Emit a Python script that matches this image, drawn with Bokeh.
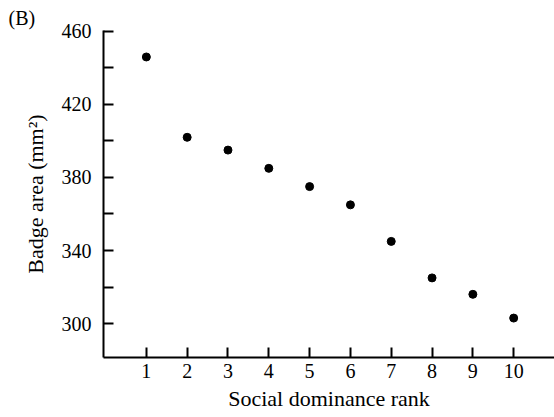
from bokeh.plotting import figure
from bokeh.models import FixedTicker, Range1d
from bokeh.embed import file_html
from bokeh.resources import INLINE

# Data
ranks = [1, 2, 3, 4, 5, 6, 7, 8, 9, 10]
badge_area = [446, 402, 395, 385, 375, 365, 345, 325, 316, 303]
y_major = [300, 340, 380, 420, 460]
y_minor = [320, 360, 400, 440]

FONT = "Liberation Serif"

p = figure(width=554, height=417, output_backend="svg", toolbar_location=None,
           x_range=Range1d(-0.05, 11.0), y_range=Range1d(281.4, 460.5),
           min_border_left=103, min_border_right=0, min_border_top=30,
           min_border_bottom=60, title="(B)")

p.title.text_font = FONT
p.title.text_font_size = "20px"
p.title.text_font_style = "normal"
p.title.text_color = "black"
p.title.align = "left"
p.title.offset = -95
p.title.standoff = 3

p.outline_line_color = None
p.xgrid.visible = False
p.ygrid.visible = False
p.background_fill_color = "white"
p.border_fill_color = "white"

p.scatter(ranks, badge_area, size=8, color="black")

xa = p.xaxis[0]
xa.ticker = FixedTicker(ticks=ranks, minor_ticks=[])
xa.axis_label = "Social dominance rank"
ya = p.yaxis[0]
ya.ticker = FixedTicker(ticks=y_major, minor_ticks=y_minor)
ya.axis_label = "Badge area (mm²)"

for ax in (xa, ya):
    ax.axis_line_width = 2
    ax.axis_line_color = "black"
    ax.major_tick_line_width = 2
    ax.major_tick_line_color = "black"
    ax.minor_tick_line_width = 2
    ax.minor_tick_line_color = "black"
    ax.major_tick_in = 10
    ax.major_tick_out = 0
    ax.minor_tick_in = 10
    ax.minor_tick_out = 0
    ax.major_label_text_font = FONT
    ax.major_label_text_font_size = "20px"
    ax.major_label_text_color = "black"
    ax.axis_label_text_font = FONT
    ax.axis_label_text_font_size = "22px"
    ax.axis_label_text_font_style = "normal"
    ax.axis_label_text_color = "black"

xa.major_label_standoff = 6
xa.axis_label_standoff = 5
ya.major_label_standoff = 12
ya.axis_label_standoff = 11

open("out.html", "w").write(file_html(p, INLINE))
